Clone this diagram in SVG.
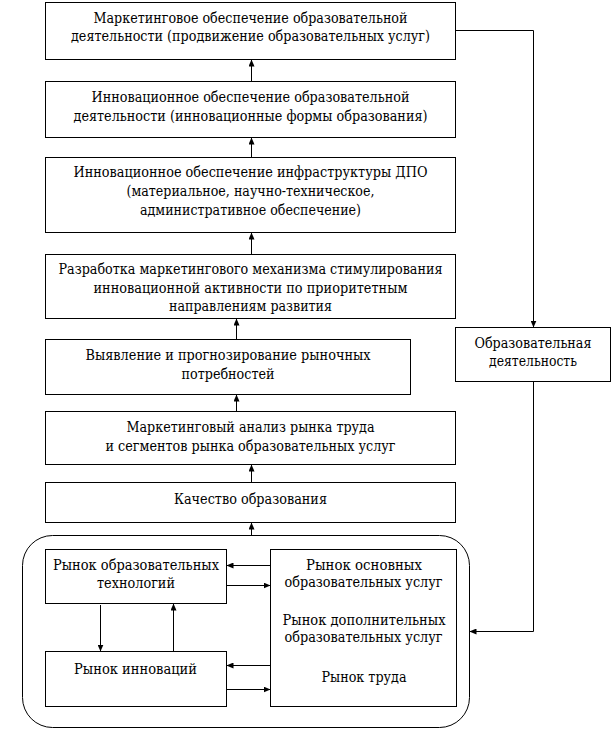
<svg xmlns="http://www.w3.org/2000/svg" width="613" height="729" viewBox="0 0 613 729">
<style>
.b{fill:#fff;stroke:#000;stroke-width:1}
.c{fill:none;stroke:#000;stroke-width:1}
.t{font-family:'DejaVu Serif','Liberation Serif',serif;font-size:14px;fill:#000;text-anchor:middle}
</style>
<defs>
<marker id="a" markerWidth="7" markerHeight="6" refX="7" refY="3" orient="auto" markerUnits="userSpaceOnUse"><path d="M0,0 L7,3 L0,6 z" fill="#000"/></marker>
</defs>
<rect x="0" y="0" width="613" height="729" fill="#fff"/>
<g id="container"><rect class="b" x="22.5" y="535.5" width="447" height="192" rx="30" ry="30"/></g>
<g class="t">
<g id="n1"><rect class="b" x="45.5" y="2.5" width="410" height="57"/>
<text x="250.5" y="22.5" textLength="314" lengthAdjust="spacingAndGlyphs">Маркетинговое обеспечение образовательной</text>
<text x="250.5" y="41" textLength="359" lengthAdjust="spacingAndGlyphs">деятельности (продвижение образовательных услуг)</text></g>
<g id="n2"><rect class="b" x="45.5" y="81.5" width="410" height="56"/>
<text x="250.5" y="101.5" textLength="318" lengthAdjust="spacingAndGlyphs">Инновационное обеспечение образовательной</text>
<text x="250.5" y="120.5" textLength="354" lengthAdjust="spacingAndGlyphs">деятельности (инновационные формы образования)</text></g>
<g id="n3"><rect class="b" x="45.5" y="157.5" width="410" height="75"/>
<text x="250.5" y="176.5" textLength="354" lengthAdjust="spacingAndGlyphs">Инновационное обеспечение инфраструктуры ДПО</text>
<text x="250.5" y="196" textLength="248" lengthAdjust="spacingAndGlyphs">(материальное, научно-техническое,</text>
<text x="250.5" y="215" textLength="221" lengthAdjust="spacingAndGlyphs">административное обеспечение)</text></g>
<g id="n4"><rect class="b" x="45.5" y="254.5" width="410" height="64"/>
<text x="250.5" y="274" textLength="384" lengthAdjust="spacingAndGlyphs">Разработка маркетингового механизма стимулирования</text>
<text x="250.5" y="292.5" textLength="314" lengthAdjust="spacingAndGlyphs">инновационной активности по приоритетным</text>
<text x="250.5" y="311" textLength="163" lengthAdjust="spacingAndGlyphs">направлениям развития</text></g>
<g id="n5"><rect class="b" x="45.5" y="339.5" width="365" height="55"/>
<text x="228" y="359.5" textLength="285" lengthAdjust="spacingAndGlyphs">Выявление и прогнозирование рыночных</text>
<text x="228" y="378.5" textLength="93" lengthAdjust="spacingAndGlyphs">потребностей</text></g>
<g id="n6"><rect class="b" x="45.5" y="411.5" width="410" height="53"/>
<text x="250.5" y="431.5" textLength="248" lengthAdjust="spacingAndGlyphs">Маркетинговый анализ рынка труда</text>
<text x="250.5" y="451" textLength="290" lengthAdjust="spacingAndGlyphs">и сегментов рынка образовательных услуг</text></g>
<g id="n7"><rect class="b" x="45.5" y="482.5" width="410" height="40"/>
<text x="250.5" y="503.5" textLength="153" lengthAdjust="spacingAndGlyphs">Качество образования</text></g>
<g id="n8"><rect class="b" x="455.5" y="327.5" width="155" height="54"/>
<text x="533" y="347.5" textLength="117" lengthAdjust="spacingAndGlyphs">Образовательная</text>
<text x="533" y="366" textLength="88" lengthAdjust="spacingAndGlyphs">деятельность</text></g>
<g id="n9"><rect class="b" x="45.5" y="549.5" width="181" height="54"/>
<text x="136" y="569.5" textLength="166" lengthAdjust="spacingAndGlyphs">Рынок образовательных</text>
<text x="136" y="588" textLength="78" lengthAdjust="spacingAndGlyphs">технологий</text></g>
<g id="n10"><rect class="b" x="45.5" y="651.5" width="181" height="55"/>
<text x="135.5" y="673.5" textLength="123" lengthAdjust="spacingAndGlyphs">Рынок инноваций</text></g>
<g id="n11"><rect class="b" x="270.5" y="549.5" width="186" height="157"/>
<text x="364" y="569.5" textLength="116" lengthAdjust="spacingAndGlyphs">Рынок основных</text>
<text x="363.5" y="587" textLength="158" lengthAdjust="spacingAndGlyphs">образовательных услуг</text>
<text x="364" y="624.5" textLength="163" lengthAdjust="spacingAndGlyphs">Рынок дополнительных</text>
<text x="363.5" y="642" textLength="158" lengthAdjust="spacingAndGlyphs">образовательных услуг</text>
<text x="364" y="682" textLength="85" lengthAdjust="spacingAndGlyphs">Рынок труда</text></g>
</g>
<g id="connectors" class="c">
<path class="c" marker-end="url(#a)" d="M251.5 81.5 V59.5"/>
<path class="c" marker-end="url(#a)" d="M251.5 157.5 V137.5"/>
<path class="c" marker-end="url(#a)" d="M251.5 254.5 V232.5"/>
<path class="c" marker-end="url(#a)" d="M236.5 339.5 V318.5"/>
<path class="c" marker-end="url(#a)" d="M236.5 411.5 V394.5"/>
<path class="c" marker-end="url(#a)" d="M251.5 482.5 V464.5"/>
<path class="c" marker-end="url(#a)" d="M251.5 535.5 V522.5"/>
<path class="c" marker-end="url(#a)" d="M455.5 30.5 H533.5 V327.5"/>
<path class="c" marker-end="url(#a)" d="M533.5 381.5 V631.5 H469.5"/>
<path class="c" marker-end="url(#a)" d="M270.5 565.5 H226.5"/>
<path class="c" marker-end="url(#a)" d="M227 585.5 H270.5"/>
<path class="c" marker-end="url(#a)" d="M270.5 665.5 H226.5"/>
<path class="c" marker-end="url(#a)" d="M227 689.5 H270.5"/>
<path class="c" marker-end="url(#a)" d="M100.5 605 V651.5"/>
<path class="c" marker-end="url(#a)" d="M173.5 651.5 V603.5"/>
</g>
</svg>
